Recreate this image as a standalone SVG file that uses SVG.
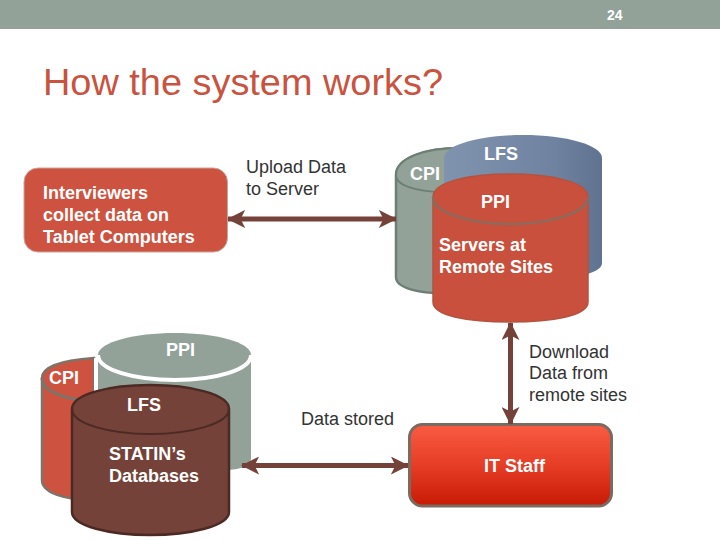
<svg xmlns="http://www.w3.org/2000/svg" width="720" height="540" viewBox="0 0 720 540">
<defs>
<linearGradient id="it" x1="0" y1="0" x2="0" y2="1"><stop offset="0" stop-color="#f85c42"/><stop offset="0.5" stop-color="#e63d26"/><stop offset="1" stop-color="#c81a04"/></linearGradient>
<linearGradient id="blue" x1="0" y1="0" x2="1" y2="0"><stop offset="0" stop-color="#8093ae"/><stop offset="0.7" stop-color="#6f83a1"/><stop offset="1" stop-color="#5f7391"/></linearGradient>
<marker id="ah" viewBox="0 0 10 10" refX="9.5" refY="5" markerWidth="3.6" markerHeight="3.6" orient="auto-start-reverse" markerUnits="strokeWidth"><path d="M0 0L10 5L0 10L2.5 5Z" fill="#754239"/></marker>
</defs>
<style>
text{font-family:"Liberation Sans",Arial,sans-serif;font-size:18px}
.w{fill:#fff;font-weight:bold}
.d{fill:#333}
.c{stroke:#754239;stroke-width:5;fill:none;marker-start:url(#ah);marker-end:url(#ah)}
</style>
<rect width="720" height="29" fill="#93a299"/>
<text x="607" y="20" style="font-size:14px;font-weight:bold" fill="#fff">24</text>
<text x="43" y="95" style="font-size:36px" fill="#c9533f" textLength="400" lengthAdjust="spacingAndGlyphs">How the system works?</text>
<g id="interviewers">
<rect x="24" y="168" width="203.500" height="84" rx="14" fill="#cd5340" stroke="#c9a59e" stroke-width="1"/>
<text class="w" x="43" y="199">Interviewers</text>
<text class="w" x="43" y="221">collect data on</text>
<text class="w" x="43" y="243">Tablet Computers</text>
</g>
<g id="upload-label"><text class="d" x="246" y="173">Upload Data</text><text class="d" x="246" y="195">to Server</text></g>
<g id="remote-cpi">
<path d="M396 175V277C396 290 425 294 460 294V148C425 148 396 158 396 175Z" fill="#93a299" stroke="#6d7f74" stroke-width="2.500"/>
<path d="M396 175C396 158 425 148 460 148V193C425 193 396 188 396 175Z" fill="#93a299" stroke="#6d7f74" stroke-width="2"/>
<text class="w" x="410" y="180">CPI</text>
</g>
<g id="remote-lfs">
<path d="M444 158C444 145 480 135 523 135C566 135 602 145 602 158V263C602 275 566 280 523 280H444Z" fill="url(#blue)"/>
<text class="w" x="484" y="160">LFS</text>
</g>
<g id="remote-ppi">
<path d="M433 197C433 182 468 174 510 174C552 174 588 182 588 197V302C588 316 552 322 510 322C468 322 433 316 433 302Z" fill="#c9503c" stroke="#b5523f" stroke-width="1.500"/>
<path d="M433 197C433 212 468 224 510 224C552 224 588 212 588 197" fill="none" stroke="#8c6a5c" stroke-width="2.500"/>
<text class="w" x="481" y="208">PPI</text>
<text class="w" x="439" y="251">Servers at</text>
<text class="w" x="439" y="273">Remote Sites</text>
</g>
<g id="statin-cpi">
<path d="M42 378C42 366 65 360 94 358V500C65 500 42 493 42 480Z" fill="#cd5340" stroke="#7f7268" stroke-width="2.500"/>
<path d="M42 378C42 388 55 396 80 400" fill="none" stroke="#7f7268" stroke-width="3"/>
<text class="w" x="49" y="384">CPI</text>
</g>
<g id="statin-ppi">
<path d="M98 355C98 342 135 333 175 333C215 333 251 342 251 355V458C251 466 240 470 225 470H98Z" fill="#93a299"/>
<path d="M98 355C98 370 135 380 175 380C215 380 251 370 251 355" fill="none" stroke="#fff" stroke-width="4"/>
<rect x="94" y="358" width="4" height="100" fill="#fff"/>
<text class="w" x="166" y="356">PPI</text>
</g>
<g id="statin-lfs">
<path d="M72 409C72 394 110 385 150 385C190 385 229 394 229 409V512C229 526 190 535 150 535C110 535 72 526 72 512Z" fill="#754239" stroke="#4b2a24" stroke-width="2.500"/>
<path d="M72 409C72 424 110 434 150 434C190 434 229 424 229 409" fill="none" stroke="#4b2a24" stroke-width="2"/>
<text class="w" x="127" y="411">LFS</text>
<text class="w" x="109" y="460">STATIN’s</text>
<text class="w" x="109" y="482">Databases</text>
</g>
<g id="it-staff">
<rect x="409.500" y="424.500" width="202" height="81.500" rx="13" fill="url(#it)" stroke="#7a6a60" stroke-width="3"/>
<text class="w" x="484" y="472">IT Staff</text>
</g>
<g id="labels">
<text class="d" x="529" y="358">Download</text><text class="d" x="529" y="379">Data from</text><text class="d" x="529" y="401">remote sites</text>
<text class="d" x="301" y="425">Data stored</text>
</g>
<g id="connectors">
<line class="c" x1="228" y1="219" x2="396" y2="219"/>
<line class="c" x1="510.500" y1="323" x2="510.500" y2="424"/>
<line class="c" x1="242" y1="465.500" x2="408" y2="465.500"/>
</g>
</svg>
